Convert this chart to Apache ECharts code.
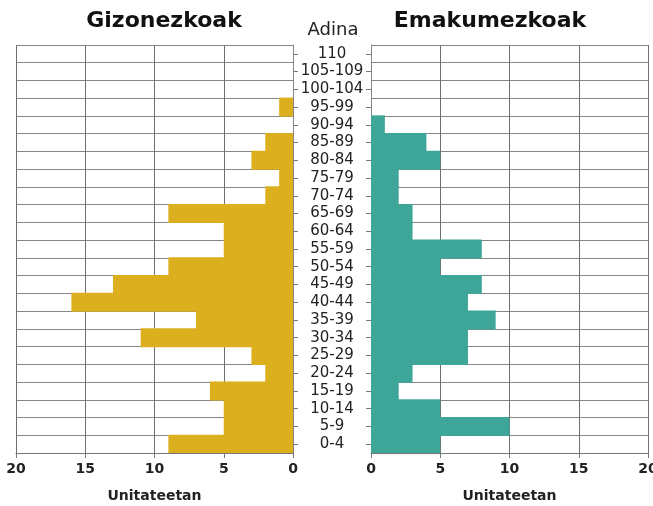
<!DOCTYPE html>
<html>
<head>
<meta charset="utf-8">
<script src="https://cdn.jsdelivr.net/npm/echarts@6/dist/echarts.min.js"></script>
<style>html,body{margin:0;padding:0;background:#fff}#c{width:653px;height:506px}</style>
</head>
<body>
<div id="c"></div>
<script>
var ageGroups = ['0-4','5-9','10-14','15-19','20-24','25-29','30-34','35-39','40-44','45-49','50-54','55-59','60-64','65-69','70-74','75-79','80-84','85-89','90-94','95-99','100-104','105-109','110'];
var men   = [9,5,5,6,2,3,11,7,16,13,9,5,5,9,2,1,3,2,0,1,0,0,0];
var women = [5,10,5,2,3,7,7,9,7,8,5,8,3,3,2,2,5,4,1,0,0,0,0];
var xTicks = [0,5,10,15,20];
var titleLeft = 'Gizonezkoak', titleRight = 'Emakumezkoak', axisTitle = 'Adina', unitName = 'Unitateetan';

var FONT = '"DejaVu Sans", sans-serif';
function noZero(arr){ return arr.map(function(v){ return v === 0 ? '-' : v; }); }
var chart = echarts.init(document.getElementById('c'), null, {renderer:'canvas'});
function xAxisCfg(idx, inverse){
  return {
    type:'value', gridIndex: idx, inverse: inverse, min: xTicks[0], max: xTicks[xTicks.length-1], interval: xTicks[1]-xTicks[0],
    name: unitName, nameLocation:'middle', nameGap: 36,
    nameTextStyle:{fontFamily:FONT, fontSize:14, fontWeight:'bold', color:'#222'},
    axisLine:{show:true, lineStyle:{color:'#777'}},
    axisTick:{show:true, length:5, lineStyle:{color:'#777'}},
    axisLabel:{fontFamily:FONT, fontSize:14, fontWeight:'bold', color:'#222', margin:9},
    splitLine:{show:true, lineStyle:{color:'#707070', width:1}}
  };
}
function yAxisCfg(idx, pos, showLabel){
  return {
    type:'category', gridIndex: idx, data: ageGroups, position: pos,
    axisLine:{show:true, lineStyle:{color:'#858585'}},
    axisTick:{show:true, alignWithLabel:true, length:5, lineStyle:{color:'#777'}},
    axisLabel:{show:showLabel, interval:0, fontFamily:FONT, fontSize:15, color:'#222', align:'center', margin:39},
    splitLine:{show:true, interval:0, lineStyle:{color:'#858585', width:1}}
  };
}
chart.setOption({
  animation:false,
  backgroundColor:'#fff',
  title:[
    {text:titleLeft, left:159, top:5, textAlign:'center', textStyle:{fontFamily:FONT, fontSize:22, fontWeight:'bold', color:'#111'}},
    {text:titleRight, left:485, top:5, textAlign:'center', textStyle:{fontFamily:FONT, fontSize:22, fontWeight:'bold', color:'#111'}},
    {text:axisTitle, left:328, top:16, textAlign:'center', textStyle:{fontFamily:FONT, fontSize:18, fontWeight:'normal', color:'#222'}}
  ],
  grid:[
    {left:16, right:360, top:45, bottom:53, containLabel:false, outerBoundsMode:'none'},
    {left:371, right:5, top:45, bottom:53, containLabel:false, outerBoundsMode:'none'}
  ],
  xAxis:[xAxisCfg(0,true), xAxisCfg(1,false)],
  yAxis:[yAxisCfg(0,'right',true), yAxisCfg(1,'left',false)],
  series:[
    {type:'bar', xAxisIndex:0, yAxisIndex:0, data:noZero(men), barWidth:19, zlevel:1, z:5,
     itemStyle:{color:'#dbaf1e', borderWidth:0}},
    {type:'bar', xAxisIndex:1, yAxisIndex:1, data:noZero(women), barWidth:19, zlevel:1, z:5,
     itemStyle:{color:'#3ea699', borderWidth:0}}
  ]
});
</script>
</body>
</html>
